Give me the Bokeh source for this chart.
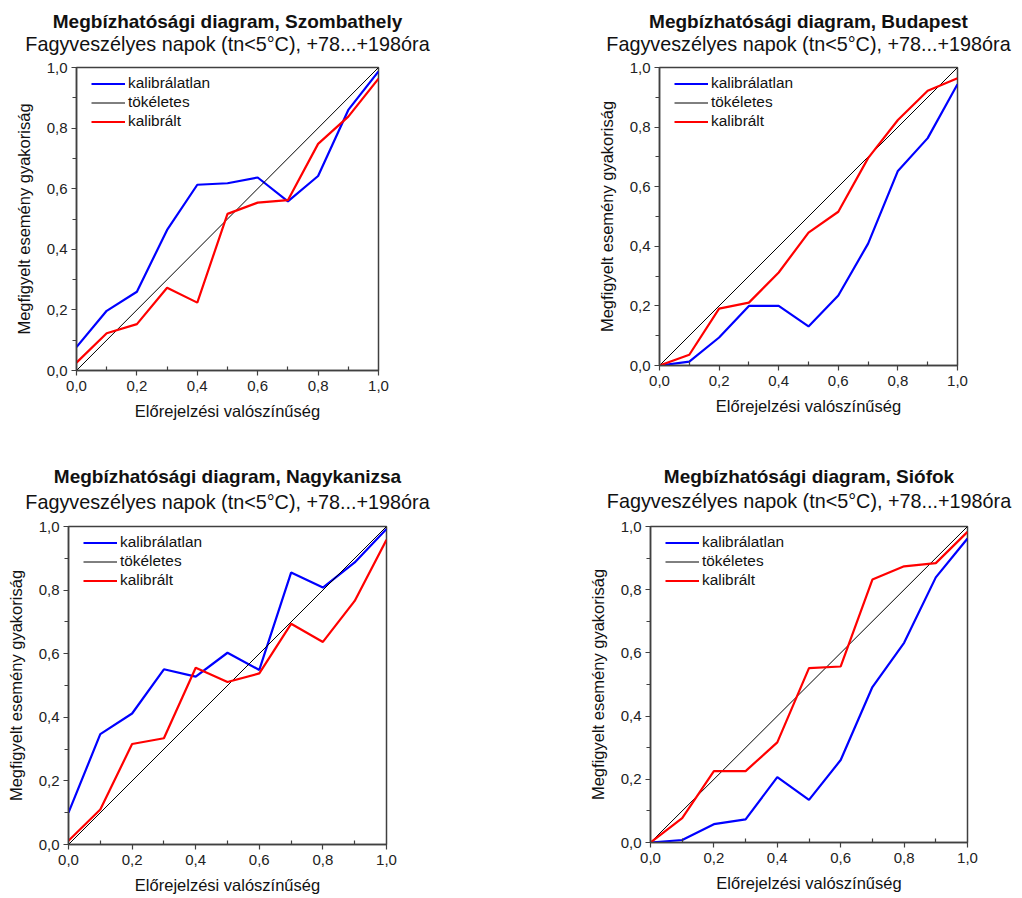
from bokeh.plotting import figure
from bokeh.layouts import column, row
from bokeh.models import (Range1d, FixedTicker, CustomJSTickFormatter, Label,
                          Legend, LegendItem)
from bokeh.embed import file_html
from bokeh.resources import INLINE

# ---------------- data ----------------
forecast_prob = [0.0, 0.1, 0.2, 0.3, 0.4, 0.5, 0.6, 0.7, 0.8, 0.9, 1.0]
perfect_x = [0.0, 1.0]
perfect_y = [0.0, 1.0]

szombathely_uncal = [0.077, 0.197, 0.260, 0.464, 0.613, 0.618, 0.637, 0.558, 0.642, 0.860, 0.987]
szombathely_cal = [0.026, 0.123, 0.153, 0.273, 0.224, 0.517, 0.554, 0.562, 0.748, 0.838, 0.963]

budapest_uncal = [0.000, 0.013, 0.094, 0.200, 0.200, 0.131, 0.235, 0.409, 0.653, 0.763, 0.944]
budapest_cal = [0.000, 0.036, 0.191, 0.211, 0.312, 0.446, 0.516, 0.696, 0.824, 0.922, 0.964]

nagykanizsa_uncal = [0.100, 0.347, 0.412, 0.551, 0.528, 0.603, 0.549, 0.855, 0.808, 0.887, 0.992]
nagykanizsa_cal = [0.012, 0.110, 0.316, 0.334, 0.556, 0.511, 0.538, 0.694, 0.637, 0.766, 0.958]

siofok_uncal = [0.000, 0.008, 0.058, 0.073, 0.207, 0.135, 0.261, 0.492, 0.632, 0.839, 0.962]
siofok_cal = [0.000, 0.077, 0.226, 0.226, 0.317, 0.552, 0.557, 0.832, 0.874, 0.884, 0.983]

major_ticks = [0.0, 0.2, 0.4, 0.6, 0.8, 1.0]
minor_ticks = [0.1, 0.3, 0.5, 0.7, 0.9]
tick_labels = ["0,0", "0,2", "0,4", "0,6", "0,8", "1,0"]

title_main = "Megbízhatósági diagram, {}"
title_sub = "Fagyveszélyes napok (tn<5°C), +78...+198óra"
x_label = "Előrejelzési valószínűség"
y_label = "Megfigyelt esemény gyakoriság"
legend_labels = ["kalibrálatlan", "tökéletes", "kalibrált"]

FONT = "Liberation Sans"
AXIS_COLOR = "#404040"
BLUE = "#0000FF"
RED = "#FF0000"


def make_title_strip(width, height, entries):
    """entries: (city, x_center, title_from_top, subtitle_from_top)"""
    t = figure(width=width, height=height, output_backend="svg",
               toolbar_location=None, tools="",
               x_range=Range1d(0, width), y_range=Range1d(0, height),
               x_axis_type=None, y_axis_type=None, min_border=0)
    t.outline_line_color = None
    t.grid.visible = False
    for city, xc, t_top, s_top in entries:
        t.add_layout(Label(x=xc, y=height - t_top, text=title_main.format(city),
                           text_font=FONT, text_font_size="19px", text_font_style="bold",
                           text_align="center", text_baseline="middle",
                           text_color="#111111"))
        t.add_layout(Label(x=xc, y=height - s_top, text=title_sub,
                           text_font=FONT, text_font_size="19.8px", text_font_style="normal",
                           text_align="center", text_baseline="middle",
                           text_color="#111111"))
    return t


def make_panel(uncal, cal, left, top, fw, fh, right, bottom):
    p = figure(frame_width=fw, frame_height=fh, output_backend="svg",
               toolbar_location=None, tools="",
               x_range=Range1d(0, 1), y_range=Range1d(0, 1),
               min_border_left=left, min_border_right=right,
               min_border_top=top, min_border_bottom=bottom)
    p.outline_line_color = AXIS_COLOR
    p.outline_line_width = 1.5
    p.grid.visible = False
    p.background_fill_color = "white"
    p.border_fill_color = "white"

    fmt = CustomJSTickFormatter(args=dict(vals=major_ticks, labs=tick_labels), code="""
        const i = vals.findIndex(v => Math.abs(v - tick) < 1e-9);
        return i >= 0 ? labs[i] : '';
    """)
    for ax in (p.xaxis[0], p.yaxis[0]):
        ax.ticker = FixedTicker(ticks=major_ticks, minor_ticks=minor_ticks)
        ax.formatter = fmt
        ax.axis_line_color = AXIS_COLOR
        ax.axis_line_width = 1.5
        ax.major_tick_line_color = AXIS_COLOR
        ax.minor_tick_line_color = AXIS_COLOR
        ax.major_tick_line_width = 1.2
        ax.minor_tick_line_width = 1.2
        ax.major_tick_out = 5
        ax.major_tick_in = 0
        ax.major_label_text_font = FONT
        ax.major_label_text_font_size = "15px"
        ax.major_label_text_color = "#222222"
        ax.axis_label_text_font = FONT
        ax.axis_label_text_font_size = "16.5px"
        ax.axis_label_text_font_style = "normal"
        ax.axis_label_text_color = "#111111"
    p.xaxis.minor_tick_in = 4
    p.xaxis.minor_tick_out = 0
    p.yaxis.minor_tick_in = 0
    p.yaxis.minor_tick_out = 4
    p.xaxis.major_label_standoff = 5
    p.yaxis.major_label_standoff = 4
    p.xaxis.axis_label = x_label
    p.yaxis.axis_label = y_label
    p.xaxis.axis_label_standoff = 8
    p.yaxis.axis_label_standoff = 11

    r_unc = p.line(forecast_prob, uncal, line_color=BLUE, line_width=2.2)
    r_perf = p.line(perfect_x, perfect_y, line_color="black", line_width=1)
    r_cal = p.line(forecast_prob, cal, line_color=RED, line_width=2.2)

    item_h = 19
    leg = Legend(items=[LegendItem(label=legend_labels[0], renderers=[r_unc]),
                        LegendItem(label=legend_labels[1], renderers=[r_perf]),
                        LegendItem(label=legend_labels[2], renderers=[r_cal])],
                 location=(15, fh - 6.5 - 3 * item_h),
                 margin=0, padding=0, spacing=0,
                 glyph_width=34, glyph_height=item_h, label_height=item_h,
                 label_standoff=3,
                 label_text_font=FONT, label_text_font_size="15.4px",
                 label_text_color="#111111",
                 border_line_color=None, background_fill_alpha=0)
    p.add_layout(leg)
    return p


# top row: frames start 67 px below the row top (57 px title strip + 10 px border)
p1 = make_panel(szombathely_uncal, szombathely_cal,
                left=76, top=10, fw=302, fh=303, right=202, bottom=85)
p2 = make_panel(budapest_uncal, budapest_cal,
                left=79, top=10, fw=298, fh=298, right=63, bottom=90)
t1 = make_title_strip(1020, 57, [("Szombathely", 76 + 151, 20.5, 43),
                                 ("Budapest", 580 + 79 + 149, 20.5, 43)])

# bottom row: 60 px title strip
p3 = make_panel(nagykanizsa_uncal, nagykanizsa_cal,
                left=68, top=10, fw=318, fh=318, right=194, bottom=55)
p4 = make_panel(siofok_uncal, siofok_cal,
                left=70, top=11, fw=317, fh=316, right=53, bottom=55)
t2 = make_title_strip(1020, 60, [("Nagykanizsa", 68 + 159, 21, 46),
                                 ("Siófok", 580 + 70 + 158.5, 20.5, 45)])

layout = column(t1, row(p1, p2, spacing=0), t2, row(p3, p4, spacing=0), spacing=0)

open("out.html", "w").write(file_html(layout, INLINE))
